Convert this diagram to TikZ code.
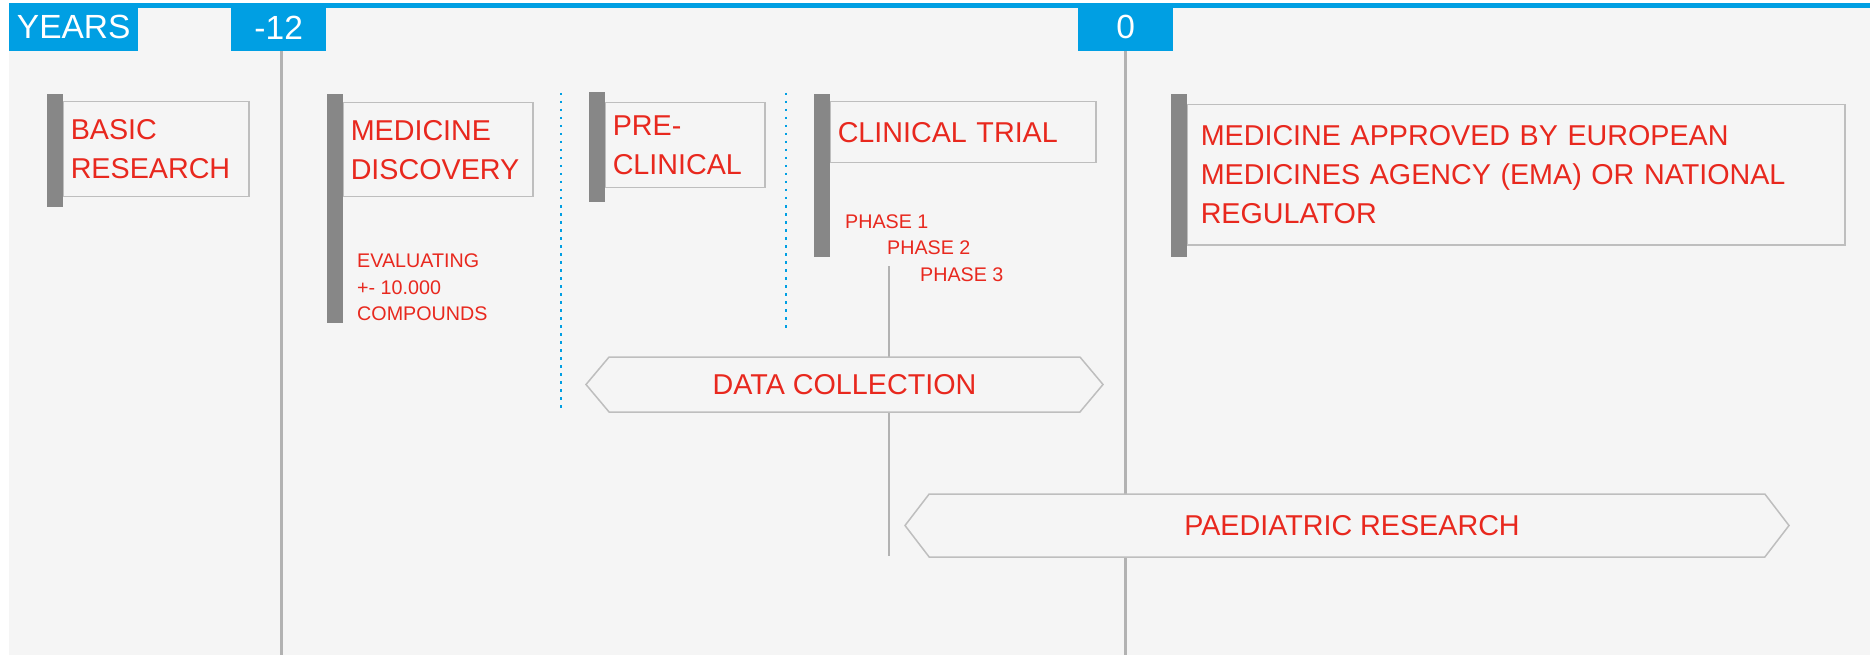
\documentclass[tikz,border=0pt]{standalone}
\usepackage{fontspec}
\setmainfont{Liberation Sans}
\usetikzlibrary{positioning,shapes.symbols}
\definecolor{tabblue}{HTML}{009FE3}
\definecolor{txtred}{HTML}{E8281E}
\definecolor{bargrey}{HTML}{878787}
\definecolor{boxgrey}{HTML}{BEBEBE}
\definecolor{panel}{HTML}{F5F5F5}
\definecolor{linegrey}{HTML}{B2B2B2}
\newcommand{\bigtxt}{\fontsize{28.7}{39}\selectfont}
\newcommand{\smalltxt}{\fontsize{19.7}{26.5}\selectfont}

\begin{document}
\begin{tikzpicture}[x=1pt,y=-1pt,
  yeartab/.style={fill=tabblue,text=white,font=\fontsize{33.5}{33.5}\selectfont,
    minimum height=47.5,inner sep=0pt,anchor=north west},
  greybar/.style={fill=bargrey,minimum width=16,inner sep=0pt,anchor=north east},
  stagebox/.style={draw=boxgrey,line width=1.5pt,text=txtred,font=\bigtxt,
    align=left,inner xsep=8,inner ysep=0pt,anchor=north west},
  smallnote/.style={text=txtred,font=\smalltxt,align=left,inner sep=0pt},
  arrowbox/.style={signal,signal to=west and east,draw=boxgrey,line width=1.5pt,
    fill=panel,text=txtred,font=\bigtxt,inner sep=0pt},
  yearline/.style={draw=linegrey,line width=2.5pt},
  linkline/.style={draw=linegrey,line width=1.5pt},
  divider/.style={draw=tabblue,line width=2.5pt,dash pattern=on 2.5pt off 5.5pt}]
  \useasboundingbox (0,0) rectangle (1870,655);
  \fill[white] (0,0) rectangle (1870,655);
  \fill[panel] (9,8.5) rectangle (1870,655);
  \fill[tabblue] (9,3.5) rectangle (1870,8.5);
  \coordinate (bottom) at (0,655);

  % years
  \node[yeartab,minimum width=129] (years) at (9,3.5)    {YEARS};
  \node[yeartab,minimum width=95]  (tm12)  at (231,3.5)  {-12};
  \node[yeartab,minimum width=95]  (t0)    at (1078,3.5) {0};
  \draw[yearline] ([xshift=3]tm12.south) -- ([xshift=3]tm12.south |- bottom);
  \draw[yearline] (t0.south) -- (t0.south |- bottom);

  % stages
  \node[stagebox,text width=170,minimum height=95] (basic) at (62,101) {BASIC\\RESEARCH};
  \node[greybar,minimum height=113] (basicbar) at ([xshift=1,yshift=7]basic.north west) {};
  \node[stagebox,text width=174,minimum height=94] (discovery) at (342,102) {MEDICINE\\DISCOVERY};
  \node[greybar,minimum height=229] (discoverybar) at ([xshift=1,yshift=8]discovery.north west) {};
  \node[stagebox,text width=144,minimum height=85] (preclin) at (604,102) {PRE-\\CLINICAL};
  \node[greybar,minimum height=110] (preclinbar) at ([xshift=1,yshift=10]preclin.north west) {};
  \node[stagebox,text width=250,minimum height=61] (trial) at (829,101) {CLINICAL TRIAL};
  \node[greybar,minimum height=163] (trialbar) at ([xshift=1,yshift=7]trial.north west) {};
  \node[stagebox,text width=630,minimum height=140,inner xsep=14] (approved) at (1186,104)
    {MEDICINE APPROVED BY EUROPEAN\\MEDICINES AGENCY (EMA) OR NATIONAL\\REGULATOR};
  \node[greybar,minimum height=163] (approvedbar) at ([xshift=1,yshift=10]approved.north west) {};

  \node[smallnote,anchor=north west] (compounds) at (357,254) {EVALUATING\\+- 10.000\\COMPOUNDS};
  \node[smallnote,anchor=base west] (phase1) at (845,229) {PHASE 1};
  \node[smallnote,anchor=base west] (phase2) at ([xshift=42,yshift=-25]phase1.base west) {PHASE 2};
  \node[smallnote,anchor=base west] (phase3) at ([xshift=33,yshift=-27]phase2.base west) {PHASE 3};

  \draw[divider] (561,93) -- (561,408);
  \draw[divider] (786,93) -- (786,330);

  \coordinate (phaseend) at (889,556);
  \draw[linkline] ([xshift=2,yshift=-12]phase2.base west) -- (phaseend);

  \node[arrowbox,signal pointer angle=100,minimum width=517,minimum height=55]
    (datacoll) at (844.5,384.5) {DATA COLLECTION};
  \node[arrowbox,signal pointer angle=105,minimum width=884,minimum height=63]
    (paed) at (1347,525.5) {\hspace*{10pt}PAEDIATRIC RESEARCH};
\end{tikzpicture}
\end{document}
